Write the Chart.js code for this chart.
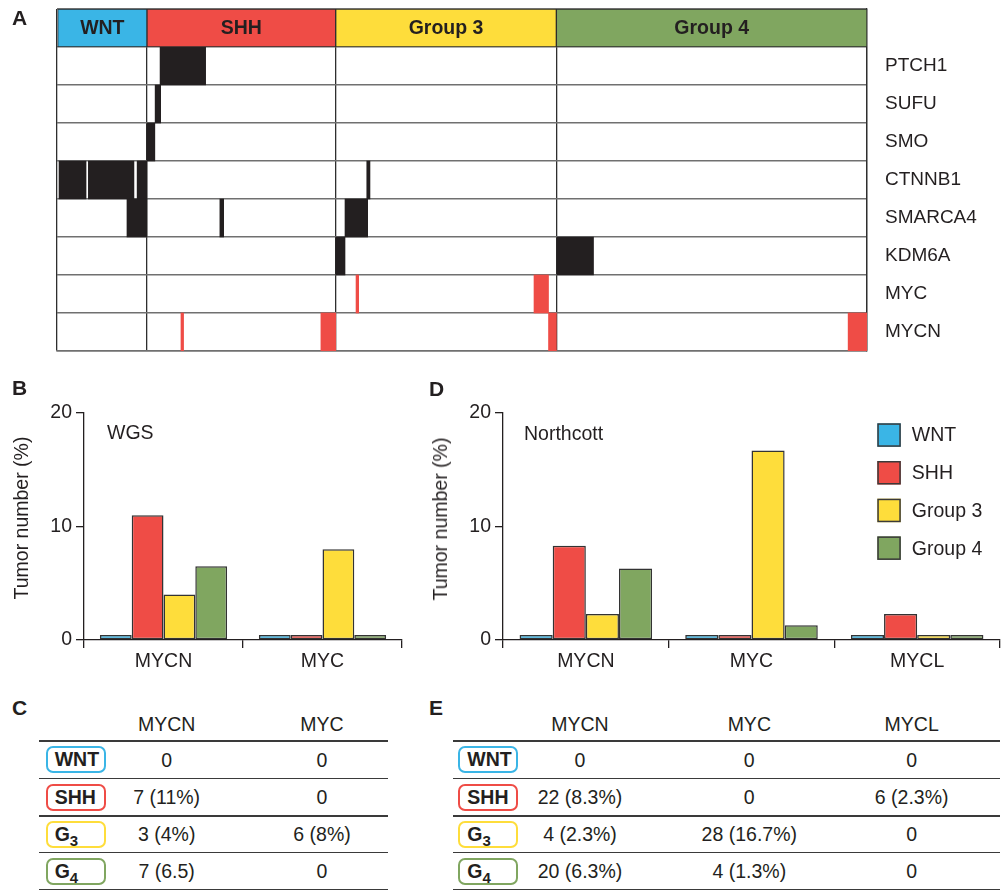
<!DOCTYPE html>
<html>
<head>
<meta charset="utf-8">
<script src="https://cdn.jsdelivr.net/npm/chart.js@4.4.1/dist/chart.umd.min.js"></script>
<style>
html,body{margin:0;padding:0;background:#fff;}
body{width:1002px;height:891px;position:relative;overflow:hidden;font-family:'Liberation Sans',Arial,Helvetica,sans-serif;color:#231f20;}
canvas{position:absolute;display:block;}
.letter{position:absolute;font-weight:bold;font-size:21px;line-height:22px;}
.ytitle{position:absolute;font-size:19.5px;line-height:22px;white-space:nowrap;transform:translate(-50%,-50%) rotate(-90deg);}
.hdr{position:absolute;font-size:19.5px;line-height:22px;white-space:nowrap;transform:translateX(-50%);}
.hline{position:absolute;height:1.5px;background:#3a3a3a;}
.cell{position:absolute;font-size:19.5px;line-height:22px;white-space:nowrap;transform:translateX(-50%);}
.badge{position:absolute;box-sizing:border-box;width:60px;height:27px;border:2px solid;border-radius:7px;font-weight:bold;font-size:19.5px;line-height:23px;padding-left:7px;white-space:nowrap;}
.badge .sub{font-size:15px;position:relative;top:5px;}
</style>
</head>
<body>
<canvas id="oncoprint" width="1002" height="362" style="left:0px;top:0px"></canvas>
<canvas id="wgs" width="420" height="300" style="left:0px;top:380px"></canvas>
<canvas id="northcott" width="582" height="300" style="left:420px;top:380px"></canvas>

<div class="letter" style="left:12px;top:7px">A</div>
<div class="letter" style="left:12px;top:377px">B</div>
<div class="letter" style="left:429px;top:378px">D</div>
<div class="letter" style="left:12px;top:697px">C</div>
<div class="letter" style="left:429px;top:697px">E</div>

<div class="ytitle" style="left:20.5px;top:518px">Tumor number (%)</div>
<div class="ytitle" style="left:440px;top:518.5px">Tumor number (%)</div>

<div id="tables"></div>

<script>
// ---------------- DATA ----------------
const subgroupNames = ['WNT', 'SHH', 'Group 3', 'Group 4'];
const subgroupShort = ['WNT', 'SHH', 'G3', 'G4'];
const subgroupColors = ['#3ab5e6', '#ef4c46', '#fedd3b', '#80a660'];
const subgroupSampleCounts = [31, 65, 76, 107];

const geneNames = ['PTCH1', 'SUFU', 'SMO', 'CTNNB1', 'SMARCA4', 'KDM6A', 'MYC', 'MYCN'];

// somatic mutations (black): gene, first sample, last sample (sample index along the x axis)
const mutationGene  = ['PTCH1', 'SUFU', 'SMO', 'CTNNB1', 'CTNNB1', 'CTNNB1', 'CTNNB1', 'SMARCA4', 'SMARCA4', 'SMARCA4', 'KDM6A', 'KDM6A'];
const mutationStart = [35.5, 33.8, 31.0, 0.7, 10.8, 27.6, 106.7, 24.1, 56.1, 99.2, 96.0, 172.2];
const mutationEnd   = [51.2, 35.7, 33.7, 10.0, 26.5, 31.0, 107.8, 31.0, 57.4, 107.0, 99.2, 184.8];

// amplifications (red)
const amplificationGene  = ['MYC', 'MYC', 'MYCN', 'MYCN', 'MYCN', 'MYCN'];
const amplificationStart = [103.0, 164.3, 42.7, 90.9, 169.3, 272.5];
const amplificationEnd   = [103.9, 169.3, 43.6, 96.0, 172.0, 279.0];

// panel B (WGS)
const wgsCategories = ['MYCN', 'MYC'];
const wgsWNT    = [0, 0];
const wgsSHH    = [11, 0];
const wgsGroup3 = [4, 8];
const wgsGroup4 = [6.5, 0];

// panel D (Northcott)
const northcottCategories = ['MYCN', 'MYC', 'MYCL'];
const northcottWNT    = [0, 0, 0];
const northcottSHH    = [8.3, 0, 2.3];
const northcottGroup3 = [2.3, 16.7, 0];
const northcottGroup4 = [6.3, 1.3, 0];

const yTicksPercent = [0, 10, 20];

// panel C table
const tableCColumns = ['MYCN', 'MYC'];
const tableCMYCN = ['0', '7 (11%)', '3 (4%)', '7 (6.5)'];
const tableCMYC  = ['0', '0', '6 (8%)', '0'];

// panel E table
const tableEColumns = ['MYCN', 'MYC', 'MYCL'];
const tableEMYCN = ['0', '22 (8.3%)', '4 (2.3%)', '20 (6.3%)'];
const tableEMYC  = ['0', '0', '28 (16.7%)', '4 (1.3%)'];
const tableEMYCL = ['0', '6 (2.3%)', '0', '0'];

// ---------------- COMMON ----------------
const FONT = "'Liberation Sans', Arial, Helvetica, sans-serif";
const INK = '#231f20';
Chart.defaults.font.family = FONT;
Chart.defaults.color = INK;

// ---------------- PANEL A ----------------
const bounds = [0];
subgroupSampleCounts.forEach(c => bounds.push(bounds[bounds.length - 1] + c));
const totalSamples = bounds[bounds.length - 1];
const HEADER = 'Subgroup';
const rowLabels = [HEADER].concat(geneNames);

const headerTextPlugin = {
  id: 'headerText',
  afterDatasetsDraw(chart) {
    const ctx = chart.ctx;
    const meta = chart.getDatasetMeta(0);
    ctx.save();
    ctx.font = 'bold 19.5px ' + FONT;
    ctx.fillStyle = INK;
    ctx.textAlign = 'center';
    ctx.textBaseline = 'middle';
    meta.data.forEach((el, i) => {
      const p = el.getProps(['x', 'base', 'y'], true);
      ctx.fillText(subgroupNames[i], (p.x + p.base) / 2, p.y + 1);
    });
    ctx.restore();
  }
};

new Chart(document.getElementById('oncoprint'), {
  type: 'bar',
  data: {
    labels: rowLabels,
    datasets: [
      {
        label: 'Subgroup',
        data: subgroupNames.map((n, i) => ({ y: HEADER, x: [bounds[i], bounds[i + 1]] })),
        backgroundColor: subgroupColors,
        borderColor: '#2e2e2e',
        borderWidth: 1,
        borderSkipped: false
      },
      {
        label: 'Mutation',
        data: mutationGene.map((g, i) => ({ y: g, x: [mutationStart[i], mutationEnd[i]] })),
        backgroundColor: INK,
        borderWidth: 0
      },
      {
        label: 'Amplification',
        data: amplificationGene.map((g, i) => ({ y: g, x: [amplificationStart[i], amplificationEnd[i]] })),
        backgroundColor: '#ef4c46',
        borderWidth: 0
      }
    ]
  },
  options: {
    indexAxis: 'y',
    responsive: false,
    animation: false,
    events: [],
    datasets: { bar: { grouped: false, barPercentage: 1, categoryPercentage: 1 } },
    layout: { padding: { left: 57, top: 9, right: 0, bottom: 11 } },
    plugins: { legend: { display: false }, tooltip: { enabled: false } },
    scales: {
      x: {
        type: 'linear', min: 0, max: totalSamples, position: 'bottom',
        afterBuildTicks: (s) => { s.ticks = bounds.map(v => ({ value: v })); },
        ticks: { display: false },
        grid: { drawTicks: false, color: '#2e2e2e', lineWidth: 1.3 },
        border: { display: true, color: '#707070', width: 1.5 },
        afterFit: (s) => { s.height = 0; s.paddingLeft = 0; s.paddingRight = 0; s.paddingTop = 0; s.paddingBottom = 0; }
      },
      y: {
        type: 'category', position: 'right', offset: true,
        grid: { offset: true, drawTicks: false, color: '#707070', lineWidth: 1.5 },
        border: { display: true, color: '#2e2e2e', width: 1.3 },
        ticks: {
          autoSkip: false, padding: 18, color: INK, font: { size: 19 },
          callback: function (v, i) { const l = this.getLabelForValue(v); return l === HEADER ? '' : l; }
        },
        afterFit: (s) => { s.width = 135; s.paddingTop = 0; s.paddingBottom = 0; s.paddingLeft = 0; s.paddingRight = 0; }
      }
    }
  },
  plugins: [headerTextPlugin]
});

// ---------------- PANELS B & D ----------------
const cornerLabelPlugin = {
  id: 'cornerLabel',
  afterDraw(chart, args, opts) {
    if (!opts || !opts.text) return;
    const ctx = chart.ctx;
    ctx.save();
    ctx.font = '19.5px ' + FONT;
    ctx.fillStyle = INK;
    ctx.textAlign = 'left';
    ctx.textBaseline = 'alphabetic';
    ctx.fillText(opts.text, opts.x, opts.y);
    ctx.restore();
  }
};

const boxLegendPlugin = {
  id: 'boxLegend',
  afterDraw(chart, args, opts) {
    if (!opts || !opts.show) return;
    const ctx = chart.ctx;
    ctx.save();
    ctx.font = '19.5px ' + FONT;
    ctx.textAlign = 'left';
    ctx.textBaseline = 'middle';
    chart.data.datasets.forEach((ds, i) => {
      const x = opts.x, y = opts.y + i * opts.step, s = opts.size;
      ctx.fillStyle = ds.backgroundColor;
      ctx.fillRect(x, y, s, s);
      ctx.strokeStyle = '#3a3a3a';
      ctx.lineWidth = 1.5;
      ctx.strokeRect(x + 0.75, y + 0.75, s - 1.5, s - 1.5);
      ctx.fillStyle = INK;
      ctx.fillText(ds.label, x + s + opts.gap, y + s / 2 + 1);
    });
    ctx.restore();
  }
};

function barChart(id, categories, series, yWidth, padRight, corner, legend) {
  return new Chart(document.getElementById(id), {
    type: 'bar',
    data: {
      labels: categories,
      datasets: series.map((vals, i) => ({
        label: subgroupNames[i],
        data: vals,
        backgroundColor: subgroupColors[i]
      }))
    },
    options: {
      responsive: false,
      animation: false,
      events: [],
      datasets: {
        bar: {
          categoryPercentage: 0.8, barPercentage: 1,
          borderWidth: 1.5, borderColor: '#333333', borderSkipped: false,
          minBarLength: 5
        }
      },
      layout: { padding: { left: 0, top: 33, right: padRight, bottom: 0 } },
      plugins: {
        legend: { display: false },
        tooltip: { enabled: false },
        cornerLabel: corner,
        boxLegend: legend
      },
      scales: {
        x: {
          grid: { offset: true, drawOnChartArea: false, drawTicks: true, tickLength: 8, color: INK, lineWidth: 1.3 },
          border: { display: true, color: INK, width: 1.3 },
          ticks: { padding: 2, color: INK, font: { size: 19.5 } },
          afterFit: (s) => { s.height = 40; }
        },
        y: {
          min: 0, max: 20,
          afterBuildTicks: (s) => { s.ticks = yTicksPercent.map(v => ({ value: v })); },
          grid: { drawOnChartArea: false, drawTicks: true, tickLength: 8, color: INK, lineWidth: 1.3 },
          border: { display: true, color: INK, width: 1.3 },
          ticks: { padding: 4, color: INK, font: { size: 19.5 } },
          afterFit: (s) => { s.width = yWidth; }
        }
      }
    },
    plugins: [cornerLabelPlugin, boxLegendPlugin]
  });
}

barChart('wgs', wgsCategories, [wgsWNT, wgsSHH, wgsGroup3, wgsGroup4], 84, 18,
  { text: 'WGS', x: 107, y: 59 }, { show: false });
barChart('northcott', northcottCategories, [northcottWNT, northcottSHH, northcottGroup3, northcottGroup4], 83, 2,
  { text: 'Northcott', x: 104, y: 60 }, { show: true, x: 457.3, y: 43.3, size: 23.5, step: 37.7, gap: 11 });

// ---------------- PANELS C & E (tables) ----------------
function badgeHTML(i) {
  const s = subgroupShort[i];
  if (s[0] === 'G') return 'G<span class="sub">' + s.slice(1) + '</span>';
  return s;
}
function buildTable(host, x0, x1, badgeX, colCenters, colNames, colValues) {
  const lineY = [741, 778.3, 816, 852.7, 889.3];
  let html = '';
  colNames.forEach((n, j) => {
    html += '<div class="hdr" style="left:' + colCenters[j] + 'px;top:713px">' + n + '</div>';
  });
  lineY.forEach(y => {
    html += '<div class="hline" style="left:' + x0 + 'px;width:' + (x1 - x0) + 'px;top:' + (y - 0.75) + 'px"></div>';
  });
  for (let r = 0; r < 4; r++) {
    const top = lineY[r], h = lineY[r + 1] - lineY[r];
    const mid = top + h / 2;
    html += '<div class="badge" style="left:' + badgeX + 'px;top:' + (mid - 13.5) + 'px;border-color:' + subgroupColors[r] + '">' + badgeHTML(r) + '</div>';
    colValues.forEach((vals, j) => {
      html += '<div class="cell" style="left:' + colCenters[j] + 'px;top:' + (mid - 11) + 'px">' + vals[r] + '</div>';
    });
  }
  host.insertAdjacentHTML('beforeend', html);
}
const host = document.getElementById('tables');
buildTable(host, 39, 388, 45.7, [166.7, 322], tableCColumns, [tableCMYCN, tableCMYC]);
buildTable(host, 453, 1000, 458.3, [580, 749.3, 911.7], tableEColumns, [tableEMYCN, tableEMYC, tableEMYCL]);
</script>
</body>
</html>
